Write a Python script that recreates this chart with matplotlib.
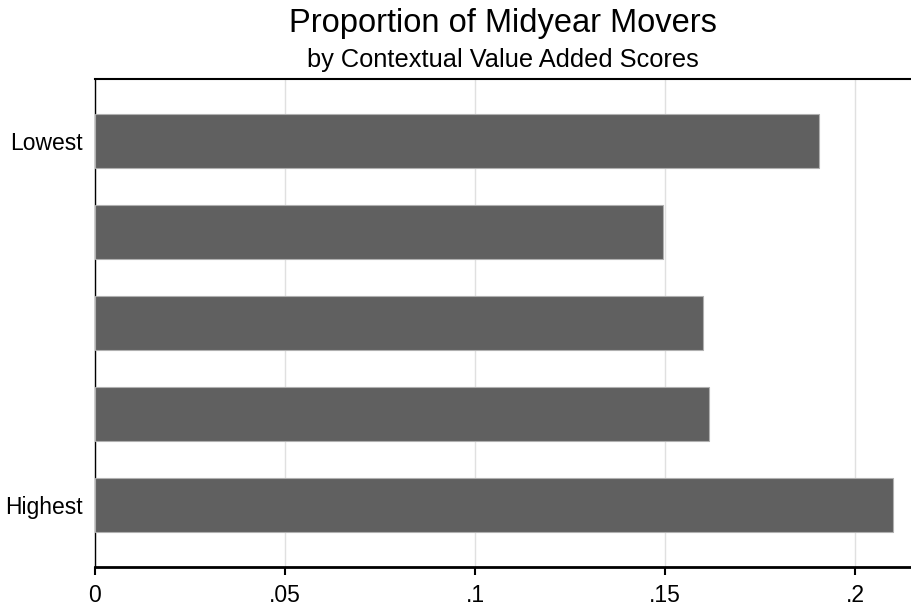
import matplotlib
matplotlib.use('Agg')
import matplotlib.pyplot as plt
import numpy as np

plt.rcParams['font.family'] = ['Liberation Sans', 'DejaVu Sans']

# data: Lowest -> Highest contextual value added quintiles
groups = ['Lowest', '', '', '', 'Highest']
proportions = [0.1905, 0.1495, 0.1600, 0.1616, 0.2101]
xticks = [0, 0.05, 0.1, 0.15, 0.2]
xticklabels = ['0', '.05', '.1', '.15', '.2']

fig = plt.figure(figsize=(9.12, 6.13), dpi=100)
ax = fig.add_axes([95 / 912, 46 / 613, 820 / 912, 488 / 613])

pos = np.arange(len(groups))
ax.barh(pos, proportions, height=0.6, color='#606060', edgecolor='#b0b0b0',
        linewidth=0.8, zorder=3)

ax.set_ylim(4.68, -0.68)
ax.set_xlim(0, 0.2158)
ax.set_yticks([0, 4])
ax.set_yticklabels(['Lowest', 'Highest'], fontsize=16.5)
ax.tick_params(axis='y', length=0, pad=9)

ax.set_xticks(xticks)
ax.set_xticklabels(xticklabels, fontsize=16.5)
ax.tick_params(axis='x', length=6, width=1.5, pad=6)
ax.xaxis.grid(True, color='#e0e0e0', linewidth=1, zorder=0)

ax.spines['bottom'].set_linewidth(2)
ax.spines['left'].set_linewidth(1)
ax.spines['top'].set_linewidth(1.5)
ax.spines['right'].set_visible(False)

fig.text(0.551, 0.962, 'Proportion of Midyear Movers', ha='center', va='center',
         fontsize=23.5)
fig.text(0.551, 0.902, 'by Contextual Value Added Scores', ha='center', va='center',
         fontsize=18.3)

plt.savefig('out.png', dpi=100)
plt.close()
